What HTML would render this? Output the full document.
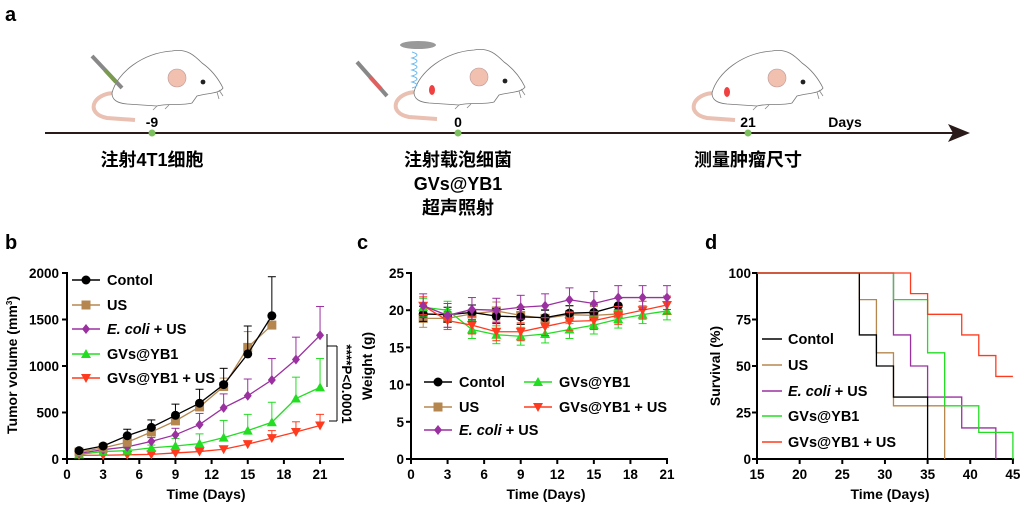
<!DOCTYPE html>
<html><head><meta charset="utf-8"><style>
body{margin:0;background:#fff;width:1025px;height:509px;overflow:hidden}
svg{display:block}
text{font-family:"Liberation Sans","Noto Sans CJK SC",sans-serif;font-weight:bold;fill:#000}
</style></head><body>
<svg id="s" width="1025" height="509" viewBox="0 0 1025 509" xmlns="http://www.w3.org/2000/svg">
<defs>
<g id="mouse">
<path d="M8,45 C-15,45 -22,66 0,70 L28,72" stroke="#e9c0b2" stroke-width="4" fill="none"/>
<path d="M5,45 C10,25 35,5 65,3 C80,0 88,8 95,15 C105,22 112,32 116,40 C112,46 100,45 90,48 L85,55 C75,58 60,55 50,58 L20,56 C10,55 5,52 5,45 Z" fill="#fff" stroke="#777" stroke-width="0.8"/>
<ellipse cx="70" cy="30" rx="9" ry="9" fill="#f2c0ae" stroke="#b99" stroke-width="0.6"/>
<circle cx="96" cy="34" r="2.4" fill="#222"/>
<path d="M50,58 l-4,4 M62,57 l-4,4 M112,42 l4,6 M110,44 l2,7" stroke="#888" stroke-width="0.8"/>
</g>
</defs>
<text x="5" y="21" font-size="20">a</text>
<use href="#mouse" x="107" y="48"/>
<use href="#mouse" x="409" y="47"/>
<use href="#mouse" x="707" y="48"/>
<line x1="92" y1="56" x2="122" y2="88" stroke="#888" stroke-width="4"/>
<line x1="105" y1="70" x2="116" y2="82" stroke="#7a9a50" stroke-width="4"/>
<line x1="357" y1="62" x2="387" y2="96" stroke="#888" stroke-width="4"/>
<line x1="370" y1="77" x2="381" y2="89" stroke="#e06060" stroke-width="4"/>
<ellipse cx="418" cy="45" rx="18" ry="4" fill="#999"/>
<path d="M412,52 q10,3 0,6 q10,3 0,6 q10,3 0,6 q10,3 0,6 q10,3 0,6 q10,3 0,6" stroke="#6ab8f0" fill="none" stroke-width="1"/>
<ellipse cx="432" cy="90" rx="3" ry="5" fill="#f04040"/>
<ellipse cx="727" cy="92" rx="3" ry="5" fill="#f04040"/>
<line x1="45" y1="133" x2="955" y2="133" stroke="#2a1a1a" stroke-width="2"/>
<path d="M948,124 L970,133 L948,142 L953,133 Z" fill="#2a1a1a"/>
<circle cx="152" cy="133" r="3.5" fill="#7cc060"/>
<circle cx="458" cy="133" r="3.5" fill="#7cc060"/>
<circle cx="748" cy="133" r="3.5" fill="#7cc060"/>
<text x="152" y="127" font-size="14" text-anchor="middle">-9</text>
<text x="458" y="127" font-size="14" text-anchor="middle">0</text>
<text x="748" y="127" font-size="14" text-anchor="middle">21</text>
<text x="845" y="127" font-size="14" text-anchor="middle">Days</text>
<text x="152" y="166" font-size="18" text-anchor="middle">注射4T1细胞</text>
<text x="458" y="166" font-size="18" text-anchor="middle">注射载泡细菌</text>
<text x="458" y="190" font-size="18" text-anchor="middle">GVs@YB1</text>
<text x="458" y="214" font-size="18" text-anchor="middle">超声照射</text>
<text x="748" y="166" font-size="18" text-anchor="middle">测量肿瘤尺寸</text>
<text x="5" y="249" font-size="20">b</text>
<text x="357" y="249" font-size="20">c</text>
<text x="705" y="249" font-size="20">d</text>
<g id="g"></g>
</svg>
<script>
var G=document.getElementById('g'),h='';
function L(x1,y1,x2,y2,c,w){h+='<line x1="'+x1+'" y1="'+y1+'" x2="'+x2+'" y2="'+y2+'" stroke="'+(c||'#000')+'" stroke-width="'+(w||2)+'"/>';}
function T(x,y,s,fs,a,extra){h+='<text x="'+x+'" y="'+y+'" font-size="'+fs+'" text-anchor="'+(a||'start')+'" '+(extra||'')+'>'+s+'</text>';}
var C=['#000','#b5874f','#9b30a0','#22dd22','#ff3b1f'];
function mk(t,x,y,c){if(t==0)h+='<circle cx="'+x+'" cy="'+y+'" r="4.5" fill="'+c+'"/>';
else if(t==1)h+='<rect x="'+(x-4.5)+'" y="'+(y-4.5)+'" width="9" height="9" fill="'+c+'"/>';
else if(t==2)h+='<path d="M'+x+','+(y-5)+' L'+(x+4)+','+y+' L'+x+','+(y+5)+' L'+(x-4)+','+y+'Z" fill="'+c+'"/>';
else if(t==3)h+='<path d="M'+x+','+(y-5)+' L'+(x+5)+','+(y+4)+' L'+(x-5)+','+(y+4)+'Z" fill="'+c+'"/>';
else h+='<path d="M'+x+','+(y+5)+' L'+(x+5)+','+(y-4)+' L'+(x-5)+','+(y-4)+'Z" fill="'+c+'"/>';}
function leg(x,y,i,lab){L(x,y,x+28,y,C[i],1.5);mk(i,x+14,y,C[i]);T(x+35,y+5,lab,14.5);}
var ECO='<tspan font-style="italic">E. coli</tspan> + US';
var bx=function(d){return 67+12.05*d},by=function(v){return 459-0.093*v};
L(67,272,67,460,'#000',2);L(66,459,344,459,'#000',2);
[0,500,1000,1500,2000].forEach(function(v){L(62,by(v),67,by(v));T(59,by(v)+5,v,13.5,'end');});
[0,3,6,9,12,15,18,21].forEach(function(d){L(bx(d),459,bx(d),464);T(bx(d),479,d,13.5,'middle');});
T(206,499,'Time (Days)',14,'middle');
T(17,365,'Tumor volume (mm<tspan font-size="8" dy="-5">3</tspan><tspan dy="5">)</tspan>',14,'middle','transform="rotate(-90 17 365)"');
var db=[
[[90,140,250,340,470,600,800,1130,1540],[100,160,320,420,590,750,975,1430,1960]],
[[75,120,180,290,410,560,780,1200,1440],[85,135,200,330,460,610,870,1370,1450]],
[[60,100,130,190,260,370,550,680,850,1070,1330],[70,110,150,230,330,490,700,860,1080,1310,1640]],
[[50,80,90,120,140,165,230,305,395,650,770],[60,90,110,150,220,270,415,480,610,880,1080]],
[[40,40,45,50,65,80,105,160,225,290,360],[45,45,50,60,75,95,130,180,305,400,480]]];
function series(data,fx,fy,i,sk){var p='';data[0].forEach(function(v,k){p+=(k?'L':'M')+fx(1+2*k)+','+fy(v);});
data[0].forEach(function(v,k){var e=data[1][k];if(sk)e=v+e;var x=fx(1+2*k);L(x,fy(v),x,fy(e),C[i],1);L(x-4,fy(e),x+4,fy(e),C[i],1);if(sk){L(x,fy(v),x,fy(v-data[1][k]),C[i],1);L(x-4,fy(v-data[1][k]),x+4,fy(v-data[1][k]),C[i],1);}});
h+='<path d="'+p+'" fill="none" stroke="'+C[i]+'" stroke-width="1.3"/>';data[0].forEach(function(v,k){mk(i,fx(1+2*k),fy(v),C[i]);});}
for(var i=4;i>=0;i--)series(db[i],bx,by,i,false);
leg(72,280,0,'Contol');leg(72,305,1,'US');leg(72,329,2,ECO);leg(72,354,3,'GVs@YB1');leg(72,378,4,'GVs@YB1 + US');
L(327,334,327,387,'#000',1);L(327,346,337,346,'#000',1);L(337,346,337,421,'#000',1);L(329,421,337,421,'#000',1);
T(342,384,'****P&lt;0.0001',13.5,'middle','transform="rotate(90 342 384)"');
var cx=function(d){return 411+12.19*d},cy=function(w){return 459-7.44*w};
L(411,272,411,460,'#000',2);L(410,459,668,459,'#000',2);
[0,5,10,15,20,25].forEach(function(v){L(406,cy(v),411,cy(v));T(404,cy(v)+5,v,13.5,'end');});
[0,3,6,9,12,15,18,21].forEach(function(d){L(cx(d),459,cx(d),464);T(cx(d),479,d,13.5,'middle');});
T(546,499,'Time (Days)',14,'middle');
T(372,366,'Weight (g)',14,'middle','transform="rotate(-90 372 366)"');
function E(a,e){return [a,a.map(function(){return e;})];}
var dc=[E([19.5,19.4,19.7,19.2,19.1,19.0,19.6,19.7,20.6],1),E([18.9,18.9,19.5,19.9,19.3,18.9,19.4,19.3,19.5],1.2),
E([20.6,19.3,20.1,20.0,20.4,20.6,21.4,20.9,21.7,21.7,21.7],1.6),E([20.4,20.0,17.4,16.7,16.5,16.8,17.4,18.0,18.8,19.4,19.9],1.2),
E([20.6,18.6,18.0,17.1,17.1,17.8,18.5,18.6,19.3,20.0,20.7],1.2)];
[1,0,3,4,2].forEach(function(i){series(dc[i],cx,cy,i,true);});
leg(424,382,0,'Contol');leg(424,407,1,'US');leg(424,430,2,ECO);leg(524,382,3,'GVs@YB1');leg(524,407,4,'GVs@YB1 + US');
var dx=function(t){return 757+8.53*(t-15)},dy=function(s){return 459-1.86*s};
L(757,272,757,460,'#000',2);L(756,459,1014,459,'#000',2);
[0,25,50,75,100].forEach(function(v){L(752,dy(v),757,dy(v));T(751,dy(v)+5,v,13.5,'end');});
[15,20,25,30,35,40,45].forEach(function(d){L(dx(d),459,dx(d),464);T(dx(d),479,d,13.5,'middle');});
T(890,499,'Time (Days)',14,'middle');
T(720,366,'Survival (%)',14,'middle','transform="rotate(-90 720 366)"');
var sd=[[[27,66.7],[29,50],[31,33.3],[35,0]],[[27,85.7],[29,57.1],[31,28.6],[37,0]],
[[31,66.7],[33,50],[35,33.3],[39,16.7],[43,0]],[[31,85.7],[35,57.1],[37,28.6],[41,14.3],[45,0]],
[[33,88.9],[35,77.8],[39,66.7],[41,55.6],[43,44.4],[45,44.4]]];
[1,2,3,0,4].forEach(function(i){var p='M'+dx(15)+','+dy(100),cur=100;sd[i].forEach(function(s){p+='L'+dx(s[0])+','+dy(cur)+'L'+dx(s[0])+','+dy(s[1]);cur=s[1];});h+='<path d="'+p+'" fill="none" stroke="'+C[i]+'" stroke-width="1.3"/>';});
function legd(y,i,lab){L(762,y,782,y,C[i],1.5);T(788,y+5,lab,14.5);}
legd(339,0,'Contol');legd(365,1,'US');legd(391,2,ECO);legd(416,3,'GVs@YB1');legd(442,4,'GVs@YB1 + US');
G.innerHTML=h;
</script>
</body></html>
